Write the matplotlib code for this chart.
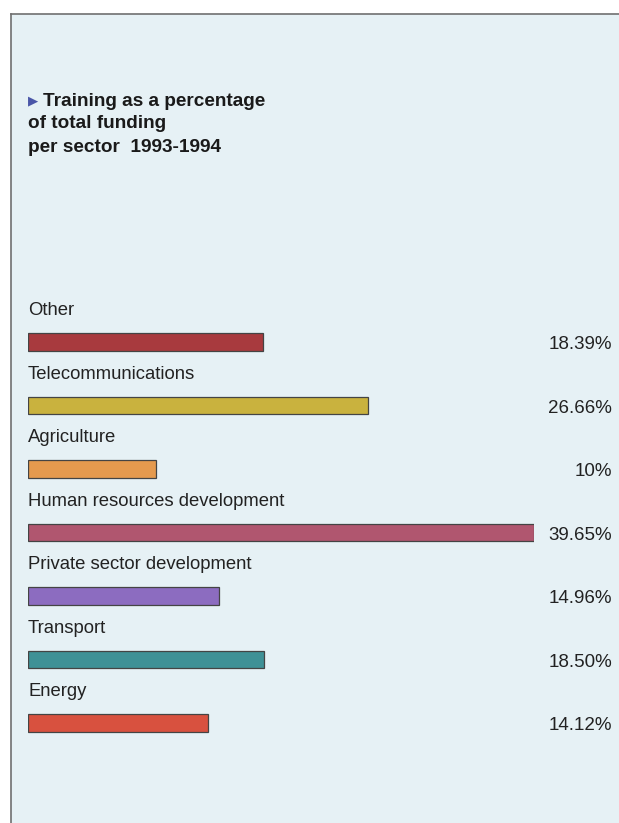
import matplotlib
matplotlib.use("Agg")
import matplotlib.pyplot as plt
from matplotlib.patches import Rectangle
from matplotlib.lines import Line2D
import matplotlib.transforms as mtransforms

plt.rcParams['font.family'] = ['Liberation Sans', 'DejaVu Sans']

sectors = ["Other", "Telecommunications", "Agriculture",
           "Human resources development", "Private sector development",
           "Transport", "Energy"]
values = [18.39, 26.66, 10, 39.65, 14.96, 18.50, 14.12]
value_labels = ["18.39%", "26.66%", "10%", "39.65%", "14.96%", "18.50%", "14.12%"]
colors = ["#a83a3e", "#c9b23e", "#e59a4e", "#b0566f", "#8c6cc0", "#3f9196", "#d8513f"]

W, H = 619, 823
fig = plt.figure(figsize=(W / 100, H / 100), dpi=100)
fig.patch.set_facecolor("white")

# panel background with left/top rule
bg = "#e6f1f5"
fig.patches.append(Rectangle((11 / W, 0), 1 - 11 / W, 1 - 14 / H,
                             transform=fig.transFigure, facecolor=bg,
                             edgecolor="none", zorder=-5))
fig.lines.append(Line2D([11 / W, 11 / W], [0, 1 - 14 / H], transform=fig.transFigure,
                        color="#707070", lw=1.2, zorder=-4))
fig.lines.append(Line2D([11 / W, 1], [1 - 14 / H, 1 - 14 / H], transform=fig.transFigure,
                        color="#707070", lw=1.2, zorder=-4))

# title
fig.text(28 / W, 1 - 101 / H, "\u25B6", color="#4a56a8", fontsize=9.5,
         va="center", ha="left", family=["DejaVu Sans"])
title_lines = ["Training as a percentage", "of total funding", "per sector  1993-1994"]
fig.text(43 / W, 1 - 101 / H, title_lines[0], fontsize=13.7, fontweight="bold",
         va="center", ha="left", color="#1a1a1a")
for i, t in enumerate(title_lines[1:]):
    fig.text(28 / W, 1 - (124 + 23 * i) / H, t, fontsize=13.7, fontweight="bold",
             va="center", ha="left", color="#1a1a1a")

# bars
step = 63.5
top_px = 342 - step / 2
bot_px = 723 + step / 2
ax = fig.add_axes([28 / W, 1 - bot_px / H, (534 - 28) / W, (bot_px - top_px) / H])
ax.set_zorder(2)
ax.set_facecolor("none")
ypos = list(range(len(sectors)))
ax.barh(ypos, values, height=0.27, color=colors, edgecolor="#444444", linewidth=0.9)
ax.set_xlim(0, max(values))
ax.set_ylim(len(sectors) - 0.5, -0.5)
ax.axis("off")

trans = mtransforms.blended_transform_factory(fig.transFigure, ax.transData)
for i, (s, lab) in enumerate(zip(sectors, value_labels)):
    ax.text(0, i - 0.49, s, fontsize=13.3, va="center", ha="left", color="#222222")
    ax.text(612 / W, i + 0.04, lab, transform=trans, fontsize=13.5,
            va="center", ha="right", color="#222222", clip_on=False)

fig.savefig("out.png", dpi=100)
